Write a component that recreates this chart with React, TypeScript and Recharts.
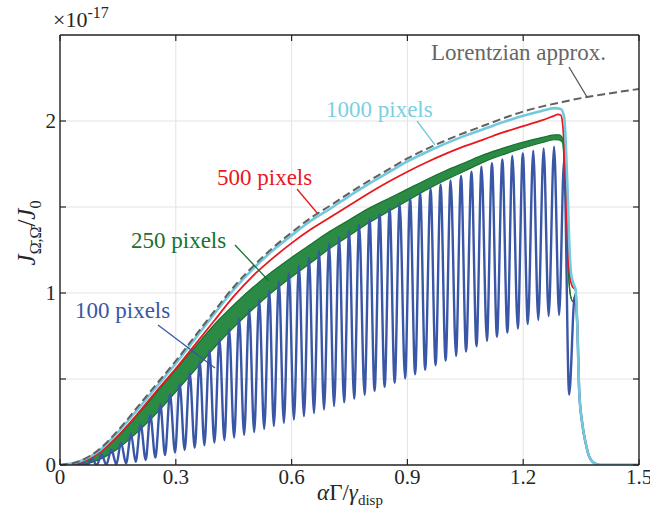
import React from "react";
import { ComposedChart, Line, Area, XAxis, YAxis, CartesianGrid } from "recharts";

// shared x grid for the smooth curves (alpha*Gamma/gamma_disp)
const xTicks = [0, 0.3, 0.6, 0.9, 1.2, 1.5];
const yTicks = [0, 0.5, 1, 1.5, 2];

const lorX = [0, 0.05, 0.1, 0.15, 0.2, 0.25, 0.3, 0.35, 0.4, 0.45, 0.5, 0.55, 0.6, 0.65, 0.7, 0.75, 0.8, 0.85, 0.9, 0.95, 1.0, 1.05, 1.1, 1.15, 1.2, 1.25, 1.3, 1.35, 1.4, 1.45, 1.5];
const lorY = [0, 0.022, 0.088, 0.2, 0.335, 0.47, 0.605, 0.75, 0.895, 1.035, 1.155, 1.26, 1.352, 1.437, 1.508, 1.582, 1.652, 1.717, 1.782, 1.838, 1.888, 1.933, 1.975, 2.017, 2.055, 2.085, 2.11, 2.133, 2.152, 2.17, 2.186];

// 1000 pixels
const cyanX = [0, 0.05, 0.1, 0.15, 0.2, 0.25, 0.3, 0.35, 0.4, 0.45, 0.5, 0.55, 0.6, 0.65, 0.7, 0.75, 0.8, 0.85, 0.9, 0.95, 1.0, 1.05, 1.1, 1.15, 1.2, 1.25, 1.28, 1.297, 1.306, 1.31, 1.315, 1.319, 1.324, 1.33, 1.336, 1.34, 1.345, 1.353, 1.362, 1.371, 1.388, 1.4, 1.45, 1.5];
const cyanY = [0, 0.02, 0.08, 0.19, 0.32, 0.455, 0.59, 0.735, 0.88, 1.02, 1.14, 1.245, 1.335, 1.42, 1.49, 1.565, 1.635, 1.7, 1.765, 1.82, 1.87, 1.915, 1.955, 1.995, 2.03, 2.06, 2.075, 2.07, 2.025, 1.89, 1.6, 1.31, 1.115, 1.056, 1.017, 0.824, 0.436, 0.24, 0.126, 0.048, 0.006, 0, 0, 0];

// 500 pixels
const redX = [0, 0.05, 0.1, 0.15, 0.2, 0.25, 0.3, 0.35, 0.4, 0.45, 0.5, 0.55, 0.6, 0.65, 0.7, 0.75, 0.8, 0.85, 0.9, 0.95, 1.0, 1.05, 1.1, 1.15, 1.2, 1.25, 1.28, 1.29, 1.297, 1.303, 1.309, 1.315, 1.321, 1.327, 1.336, 1.34, 1.345, 1.353, 1.362, 1.371, 1.388, 1.4, 1.5];
const redY = [0, 0.015, 0.068, 0.17, 0.295, 0.43, 0.56, 0.7, 0.84, 0.98, 1.1, 1.2, 1.29, 1.37, 1.44, 1.51, 1.58, 1.645, 1.705, 1.76, 1.81, 1.855, 1.895, 1.935, 1.97, 2.005, 2.03, 2.038, 2.035, 1.967, 1.7, 1.31, 1.095, 1.04, 1.017, 0.824, 0.436, 0.24, 0.126, 0.048, 0.006, 0, 0];

// 250 pixels: fast ripple, kept as its lower / upper envelope
const greenX = [0, 0.05, 0.1, 0.15, 0.2, 0.25, 0.3, 0.35, 0.4, 0.45, 0.5, 0.55, 0.6, 0.65, 0.7, 0.75, 0.8, 0.85, 0.9, 0.95, 1.0, 1.05, 1.1, 1.15, 1.2, 1.25, 1.28, 1.293, 1.302, 1.309, 1.315, 1.323, 1.329, 1.336, 1.34, 1.345, 1.353, 1.362, 1.371, 1.388, 1.4, 1.5];
const greenLo = [0, 0.002, 0.03, 0.095, 0.19, 0.3, 0.425, 0.553, 0.683, 0.8, 0.907, 1.005, 1.093, 1.176, 1.26, 1.334, 1.408, 1.472, 1.536, 1.6, 1.658, 1.711, 1.764, 1.806, 1.843, 1.875, 1.891, 1.89, 1.875, 1.6, 1.21, 0.98, 0.95, 1.0, 0.824, 0.436, 0.24, 0.126, 0.048, 0.006, 0, 0];
const greenHi = [0, 0.018, 0.07, 0.165, 0.29, 0.42, 0.555, 0.687, 0.817, 0.93, 1.033, 1.125, 1.207, 1.284, 1.36, 1.426, 1.492, 1.548, 1.604, 1.66, 1.712, 1.759, 1.806, 1.844, 1.877, 1.905, 1.919, 1.92, 1.9, 1.6, 1.21, 0.98, 0.95, 1.0, 0.824, 0.436, 0.24, 0.126, 0.048, 0.006, 0, 0];

// 100 pixels: troughs and peaks of the oscillation
const troughX = [0.045, 0.07, 0.095, 0.12, 0.146, 0.171, 0.196, 0.222, 0.247, 0.272, 0.298, 0.323, 0.349, 0.374, 0.4, 0.426, 0.451, 0.477, 0.503, 0.529, 0.554, 0.58, 0.606, 0.632, 0.658, 0.684, 0.71, 0.736, 0.762, 0.789, 0.815, 0.841, 0.867, 0.894, 0.92, 0.946, 0.973, 0.999, 1.026, 1.052, 1.079, 1.106, 1.132, 1.159, 1.186, 1.212, 1.239, 1.266, 1.293];
const troughY = [0, 0, 0, 0.001, 0.004, 0.01, 0.018, 0.03, 0.043, 0.058, 0.073, 0.087, 0.1, 0.115, 0.13, 0.145, 0.16, 0.176, 0.192, 0.21, 0.227, 0.245, 0.264, 0.283, 0.302, 0.322, 0.343, 0.364, 0.386, 0.408, 0.431, 0.454, 0.478, 0.503, 0.528, 0.554, 0.58, 0.607, 0.634, 0.66, 0.69, 0.722, 0.746, 0.77, 0.794, 0.82, 0.843, 0.866, 0.872];
const peakX = [0.058, 0.083, 0.108, 0.133, 0.158, 0.184, 0.209, 0.234, 0.26, 0.285, 0.31, 0.336, 0.362, 0.387, 0.413, 0.438, 0.464, 0.49, 0.516, 0.542, 0.567, 0.593, 0.619, 0.645, 0.671, 0.697, 0.723, 0.749, 0.775, 0.802, 0.828, 0.854, 0.88, 0.907, 0.933, 0.96, 0.986, 1.012, 1.039, 1.066, 1.092, 1.119, 1.146, 1.172, 1.199, 1.226, 1.253, 1.28, 1.306];
const peakY = [0.015, 0.035, 0.06, 0.09, 0.13, 0.18, 0.235, 0.29, 0.35, 0.41, 0.47, 0.535, 0.6, 0.665, 0.73, 0.79, 0.85, 0.905, 0.96, 1.015, 1.065, 1.115, 1.16, 1.205, 1.245, 1.285, 1.325, 1.36, 1.395, 1.43, 1.46, 1.49, 1.52, 1.55, 1.58, 1.605, 1.63, 1.655, 1.68, 1.705, 1.734, 1.754, 1.777, 1.797, 1.812, 1.827, 1.841, 1.851, 1.773];
const blueTailX = [1.319, 1.3335, 1.34, 1.345, 1.353, 1.362, 1.371, 1.388, 1.4, 1.5];
const blueTailY = [0.41, 0.98, 0.824, 0.436, 0.24, 0.126, 0.048, 0.006, 0, 0];

const pairs = (xs: number[], ys: number[]) => xs.map((x, i) => ({ x, y: ys[i] }));

const lorData = pairs(lorX, lorY);
const cyanData = pairs(cyanX, cyanY);
const redData = pairs(redX, redY);
const greenData = greenX.map((x, i) => ({ x, range: [greenLo[i], greenHi[i]] }));
const blueData = [{ x: 0.005, y: 0 }];
troughX.forEach((x, i) => {
  blueData.push({ x, y: troughY[i] });
  blueData.push({ x: peakX[i], y: peakY[i] });
});
blueData.push(...pairs(blueTailX, blueTailY));

const FONT = "'Liberation Serif', 'DejaVu Serif', serif";
const INK = "#262626";

const BottomTick = (p: any) => (
  <g>
    <line x1={p.x} x2={p.x} y1={p.y} y2={p.y - 6} stroke={INK} strokeWidth={1.2} />
    <text x={p.x} y={p.y + 19} textAnchor="middle" fontSize={21} fontFamily={FONT} fill={INK}>
      {p.payload.value}
    </text>
  </g>
);
const TopTick = (p: any) => <line x1={p.x} x2={p.x} y1={p.y} y2={p.y + 6} stroke={INK} strokeWidth={1.2} />;
const LeftTick = (p: any) => (
  <g>
    <line x1={p.x} x2={p.x + 6} y1={p.y} y2={p.y} stroke={INK} strokeWidth={1.2} />
    {Number.isInteger(p.payload.value) && (
      <text x={p.x - 4} y={p.y + 7} textAnchor="end" fontSize={21} fontFamily={FONT} fill={INK}>
        {p.payload.value}
      </text>
    )}
  </g>
);
const RightTick = (p: any) => <line x1={p.x} x2={p.x - 6} y1={p.y} y2={p.y} stroke={INK} strokeWidth={1.2} />;

const axisLine = { stroke: INK, strokeWidth: 1.4 };

export default function App() {
  return (
    <div style={{ position: "absolute", left: 0, top: 0, width: 650, height: 521, background: "#fff" }}>
      <ComposedChart width={650} height={521} margin={{ top: 34, right: 10, bottom: 55, left: 59 }}>
        <CartesianGrid xAxisId="b" yAxisId="l" stroke="#e3e3e3" strokeWidth={1} />
        <XAxis xAxisId="b" type="number" dataKey="x" domain={[0, 1.5]} ticks={xTicks} interval={0} height={1}
          tickSize={0} tickMargin={0} tickLine={false} axisLine={axisLine} tick={<BottomTick />} allowDataOverflow />
        <XAxis xAxisId="t" orientation="top" type="number" dataKey="x" domain={[0, 1.5]} ticks={xTicks} interval={0} height={1}
          tickSize={0} tickMargin={0} tickLine={false} axisLine={axisLine} tick={<TopTick />} allowDataOverflow />
        <YAxis yAxisId="l" type="number" domain={[0, 2.5]} ticks={yTicks} interval={0} width={1}
          tickSize={0} tickMargin={0} tickLine={false} axisLine={axisLine} tick={<LeftTick />} allowDataOverflow />
        <YAxis yAxisId="r" orientation="right" type="number" domain={[0, 2.5]} ticks={yTicks} interval={0} width={1}
          tickSize={0} tickMargin={0} tickLine={false} axisLine={axisLine} tick={<RightTick />} allowDataOverflow />

        <Line xAxisId="b" yAxisId="l" data={blueData} dataKey="y" type="monotone" stroke="#3a56a6" strokeWidth={2.4}
          dot={false} activeDot={false} isAnimationActive={false} />
        <Area xAxisId="b" yAxisId="l" data={greenData} dataKey="range" type="monotone" stroke="#17722f" strokeWidth={1.2}
          fill="#2b8a43" fillOpacity={1} dot={false} activeDot={false} isAnimationActive={false} />
        <Line xAxisId="b" yAxisId="l" data={redData} dataKey="y" type="monotone" stroke="#e8181c" strokeWidth={1.8}
          dot={false} activeDot={false} isAnimationActive={false} />
        <Line xAxisId="b" yAxisId="l" data={cyanData} dataKey="y" type="monotone" stroke="#72c9de" strokeWidth={2.6}
          dot={false} activeDot={false} isAnimationActive={false} />
        <Line xAxisId="b" yAxisId="l" data={lorData} dataKey="y" type="monotone" stroke="#606060" strokeWidth={2}
          strokeDasharray="8 4" dot={false} activeDot={false} isAnimationActive={false} />
      </ComposedChart>

      <svg width={650} height={521} style={{ position: "absolute", left: 0, top: 0, pointerEvents: "none" }}
        fontFamily={FONT}>
        <text x={53} y={27} fontSize={22} fill={INK}>
          ×10<tspan fontSize={16} dy={-9}>-17</tspan>
        </text>

        <text x={431} y={60} fontSize={23} fill="#666">Lorentzian approx.</text>
        <line x1={569} y1={67} x2={587} y2={97} stroke="#555" strokeWidth={1.3} />

        <text x={326} y={117} fontSize={23} fill="#7ccfe2">1000 pixels</text>
        <line x1={417} y1={121} x2={435} y2={145} stroke="#72c9de" strokeWidth={1.3} />

        <text x={217} y={185} fontSize={23} fill="#e8181c">500 pixels</text>
        <line x1={297} y1={189} x2={318} y2={214} stroke="#e8181c" strokeWidth={1.3} />

        <text x={131} y={248} fontSize={23} fill="#17722f">250 pixels</text>
        <line x1={235} y1={245} x2={269} y2={281} stroke="#17722f" strokeWidth={1.3} />

        <text x={75} y={318} fontSize={23} fill="#3a56a6">100 pixels</text>
        <line x1={158} y1={325} x2={215} y2={368} stroke="#3a56a6" strokeWidth={1.3} />

        <text x={350} y={500} textAnchor="middle" fontSize={23} fill={INK}>
          <tspan fontStyle="italic">α</tspan>Γ/<tspan fontStyle="italic">γ</tspan>
          <tspan fontSize={15} dy={5}>disp</tspan>
        </text>

        <text transform="translate(35,233) rotate(-90)" textAnchor="middle" fontSize={25} fill={INK}>
          <tspan fontStyle="italic">J</tspan>
          <tspan fontSize={16} dy={6}>Ω̄,Ω̄</tspan>
          <tspan dy={-6}>/</tspan>
          <tspan fontStyle="italic">J</tspan>
          <tspan fontSize={16} dy={6}>0</tspan>
        </text>
      </svg>
    </div>
  );
}
